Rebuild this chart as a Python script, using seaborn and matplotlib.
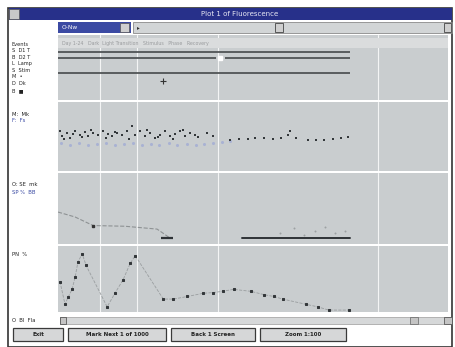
import matplotlib
matplotlib.use("Agg")
import matplotlib.pyplot as plt
from matplotlib.patches import Rectangle
import pandas as pd
import seaborn as sns

W, H = 455, 347

# ---- data (x in "days" 0..100 across the trace window) ----
grid_days = [10.8, 20.3, 41.1, 82.0]

# top panel: event bars
bar_level = [7.4, 6.5, 6.5, 4.2]
bar_start = [0.0, 0.0, 42.9, 0.0]
bar_end = [74.8, 40.4, 74.8, 74.8]
gap_mark = (41.6, 6.5)
cross_mark = (27.0, 2.9)

# second panel: M (dark) and F (light) points
m_day = [0.5, 1.0, 2.3, 3.1, 4.4, 5.7, 6.9, 7.7, 9.0, 10.3, 11.6, 12.9, 13.9, 15.2,
         16.5, 17.7, 19.0, 19.8, 21.1, 22.4, 23.7, 24.9, 26.2, 27.5, 28.8, 30.1, 31.4,
         32.6, 33.9, 35.2, 38.3, 39.8, 44.2, 46.3, 48.6, 50.6, 52.7, 55.0, 57.1, 58.9,
         59.6, 60.9, 64.0, 66.1, 68.1, 70.4, 72.5, 74.3,
         1.6, 3.8, 6.2, 8.4, 12.2, 14.5, 18.3, 22.9, 25.6, 29.4, 32.0, 36.0]
m_val = [5.8, 5.1, 5.5, 4.8, 5.8, 5.2, 5.6, 5.1, 5.5, 5.2, 5.8, 5.4, 5.1, 5.5,
         5.2, 5.8, 6.5, 5.2, 5.8, 5.1, 5.5, 4.8, 5.2, 5.8, 5.1, 5.4, 5.8,
         5.1, 5.5, 5.2, 5.5, 5.1, 4.5, 4.6, 4.6, 4.8, 4.8, 4.6, 4.8, 5.2,
         5.8, 4.8, 4.5, 4.5, 4.5, 4.6, 4.8, 4.9,
         4.6, 5.3, 4.9, 5.9, 4.8, 5.7, 4.7, 6.0, 4.9, 4.7, 6.0, 4.9]
f_day = [0.8, 3.0, 5.5, 7.8, 10.0, 12.4, 14.6, 17.0, 19.3, 21.5, 23.8, 26.0, 28.4,
         30.6, 33.0, 35.3, 37.5, 39.8, 42.0, 44.0]
f_val = [4.1, 3.8, 4.0, 3.7, 3.9, 4.1, 3.8, 3.9, 4.0, 3.7, 3.9, 3.8, 4.0,
         3.8, 3.9, 3.7, 3.9, 4.0, 4.2, 4.3]

# third panel: decay trace and baseline
d_day = [0.0, 4.4, 9.0, 17.2, 25.4, 27.0, 28.8]
d_val = [4.5, 3.8, 2.6, 2.5, 2.1, 1.5, 0.8]
base_day = [47.3, 74.8]
base_val = [0.8, 0.8]
s_day = [57.0, 60.5, 63.0, 66.0, 68.5, 71.0, 73.5]
s_val = [1.6, 2.2, 1.3, 1.8, 2.4, 1.5, 1.9]

# bottom panel: PN %
pn_day = [0.5, 1.8, 2.6, 3.6, 4.4, 5.1, 6.2, 7.2, 12.6, 14.7, 16.7, 18.5, 19.8,
          27.0, 29.6, 33.2, 37.3, 39.8, 42.2, 45.0, 49.4, 52.7, 55.3, 57.6,
          63.5, 66.6, 69.4, 74.6]
pn_val = [0.45, 0.10, 0.21, 0.33, 0.52, 0.75, 0.88, 0.70, 0.06, 0.28, 0.48, 0.73, 0.85,
          0.18, 0.18, 0.22, 0.27, 0.28, 0.30, 0.33, 0.30, 0.25, 0.22, 0.18,
          0.10, 0.06, 0.01, 0.01]

buttons = ["Exit", "Mark Next 1 of 1000", "Back 1 Screen", "Zoom 1:100"]
title = "Plot 1 of Fluorescence"

PLOT_BG = "#c9cdcf"
GRID = "#f4f5f5"


def box(x0, y0, x1, y1):
    return [x0 / W, 1 - y1 / H, (x1 - x0) / W, (y1 - y0) / H]


def rect(fig, x0, y0, x1, y1, fc, ec="none", lw=0.8, z=1):
    fig.add_artist(Rectangle((x0 / W, 1 - y1 / H), (x1 - x0) / W, (y1 - y0) / H,
                             transform=fig.transFigure, fc=fc, ec=ec, lw=lw, zorder=z))


def text(fig, x, y, s, size=4.2, color="#222222", **kw):
    fig.text(x / W, 1 - y / H, s, fontsize=size, color=color, va="center", **kw)


def panel(fig, y0, y1, ylim):
    ax = fig.add_axes(box(58, y0, 448, y1))
    ax.set_facecolor(PLOT_BG)
    ax.set_xlim(0, 100)
    ax.set_ylim(*ylim)
    for d in grid_days:
        ax.axvline(d, color=GRID, lw=0.8, zorder=0)
    ax.set_xticks([])
    ax.set_yticks([])
    for s in ax.spines.values():
        s.set_visible(False)
    return ax


sns.set_style("white")
fig = plt.figure(figsize=(W / 100, H / 100), dpi=100)
fig.patch.set_facecolor("white")

# window frame
rect(fig, 8, 8, 452, 347, "white", ec="#333333", lw=1.2, z=0)
rect(fig, 9, 8, 452, 20, "#27308a")
rect(fig, 9, 9, 19, 19, "#c8c8c8", ec="#555555", lw=0.5, z=2)
text(fig, 240, 14, title, size=5.0, color="#e8e8f4", ha="center")

# selector row
rect(fig, 58, 22, 131, 33, "#3b4aa3")
rect(fig, 120, 23, 129, 32, "#cfcfcf", ec="#555555", lw=0.5, z=2)
text(fig, 62, 27.5, "O-Nw", size=4.2, color="white")
rect(fig, 133, 22, 452, 33, "#d2d5d6", ec="#777777", lw=0.5)
rect(fig, 275, 23, 283, 32, "#cfcfcf", ec="#444444", lw=0.6, z=2)
rect(fig, 444, 23, 451, 32, "#cfcfcf", ec="#444444", lw=0.6, z=2)
text(fig, 137, 27.5, "\u25b8", size=4, color="#333333")

# panel 1: event bars
ax1 = panel(fig, 35, 100, (0, 10))
ax1.axhspan(8.0, 9.5, color="#dadcdd", lw=0, zorder=0)
ax1.text(1, 8.75, "Day 1-24   Dark  Light Transition   Stimulus   Phase   Recovery", fontsize=3.4,
         color="#9a9c9e", va="center")
for lv, a, b in zip(bar_level, bar_start, bar_end):
    ax1.hlines(lv, a, b, color="#505456", lw=1.3)
ax1.plot(*gap_mark, marker="s", ms=2.5, color="white", mec="white")
ax1.plot(*cross_mark, marker="+", ms=4, color="#333333", mew=0.8)

# panel 2: M / F points
ax2 = panel(fig, 102, 171, (0, 10))
sns.scatterplot(x=f_day, y=f_val, ax=ax2, color="#a6b0d4", s=5, linewidth=0, alpha=0.9)
sns.scatterplot(x=m_day, y=m_val, ax=ax2, color="#33373a", s=3.5, marker="s", linewidth=0)

# panel 3: decay
ax3 = panel(fig, 173, 244, (0, 10))
sns.lineplot(x=d_day, y=d_val, ax=ax3, color="#8e9294", lw=0.8, linestyle="--")
ax3.plot(d_day[2], d_val[2], marker="s", ms=1.8, color="#333333")
ax3.hlines(d_val[-1], 26.5, 29.5, color="#2e3236", lw=1.6)
sns.lineplot(x=base_day, y=base_val, ax=ax3, color="#2e3236", lw=1.4)
sns.scatterplot(x=s_day, y=s_val, ax=ax3, color="#9da1a3", s=2, linewidth=0)

# panel 4: PN %
ax4 = panel(fig, 246, 312, (-0.02, 1.0))
sns.lineplot(x=pn_day, y=pn_val, ax=ax4, color="#9a9ea0", lw=0.6, linestyle="--",
             marker="s", markersize=1.8, markerfacecolor="#33373a", markeredgecolor="#33373a")
for ax in (ax1, ax2, ax3, ax4):
    ax.set_xlim(0, 100)
    ax.set_xlabel("")
    ax.set_ylabel("")

# left labels
for i, s in enumerate(["Events", "S  D1 T", "B  D2 T", "L  Lamp", "S  Stim", "M  \u2022",
                       "D  Dk", "B  \u25a0"]):
    text(fig, 12, 44 + i * 6.6, s, size=3.6)
text(fig, 12, 114, "M:  Mk", size=3.8)
text(fig, 12, 121, "F:  Fs", size=3.8, color="#3a4aa3")
text(fig, 12, 185, "O: SE  mk", size=3.8)
text(fig, 12, 192, "SP %  BB", size=3.8, color="#3a4aa3")
text(fig, 12, 255, "PN  %", size=3.8)
text(fig, 12, 320, "O  Bl  Fla", size=3.8)

# scrollbar
rect(fig, 60, 317, 452, 324, "#d6d8d9", ec="#888888", lw=0.4)
rect(fig, 60, 317, 66, 324, "#c4c4c4", ec="#444444", lw=0.5, z=2)
rect(fig, 444, 317, 452, 324, "#c4c4c4", ec="#444444", lw=0.5, z=2)
rect(fig, 410, 317, 418, 324, "#c4c4c4", ec="#666666", lw=0.5, z=2)

# buttons
for (x0, x1), label in zip([(13, 63), (68, 166), (171, 255), (260, 346)], buttons):
    rect(fig, x0, 328, x1, 341, "#d6d7d8", ec="#3a3a3a", lw=0.9)
    text(fig, (x0 + x1) / 2, 334.5, label, size=4, ha="center", weight="bold")

fig.savefig("out.png", dpi=100, facecolor="white")
